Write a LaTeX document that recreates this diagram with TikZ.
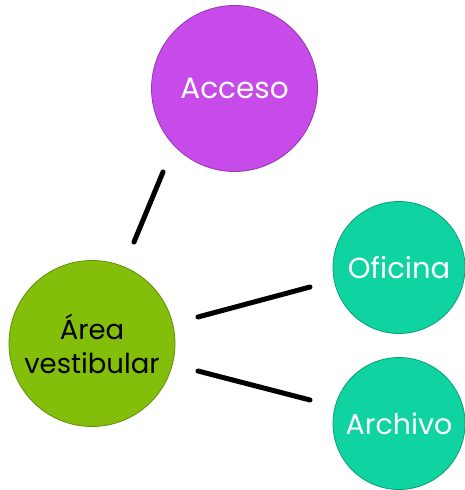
\documentclass[tikz,border=0pt]{standalone}
\usepackage{fontspec}
\setmainfont{Poppins}
\definecolor{cpurple}{HTML}{C64BE8}
\definecolor{cgreen}{HTML}{82BE0A}
\definecolor{cteal}{HTML}{10D3A2}
\begin{document}
\begin{tikzpicture}[x=1pt,y=-1pt,
  bubble/.style={circle,inner sep=0pt,line width=0.8pt,align=center},
  link/.style={line width=5pt,line cap=round,black}]
\useasboundingbox (0,0) rectangle (465,490);
\node[bubble,fill=cpurple,draw=cpurple!75!black,minimum size=166pt,text=white,font=\fontsize{29.5}{33}\selectfont] (acc) at (234.5,88.5) {Acceso};
\node[bubble,fill=cgreen,draw=cgreen!75!black,minimum size=166pt,text=black,font=\fontsize{27.5}{34}\selectfont] (area) at (92,343.5) {Área\\vestibular};
\node[bubble,fill=cteal,draw=cteal!75!black,minimum size=132pt,text=white,font=\fontsize{29}{32}\selectfont] (ofi) at (399,267.5) {Oficina};
\node[bubble,fill=cteal,draw=cteal!75!black,minimum size=132pt,text=white,font=\fontsize{28.5}{32}\selectfont,yshift=-3pt] (arc) at (399,420.5) {Archivo};
\coordinate (l1a) at (163,172); \coordinate (l1b) at (134,242);
\coordinate (l2a) at (198,317); \coordinate (l2b) at (310,287);
\coordinate (l3a) at (198,371); \coordinate (l3b) at (310,400);
\draw[link] (l1a) -- (l1b);
\draw[link] (l2a) -- (l2b);
\draw[link] (l3a) -- (l3b);
\end{tikzpicture}
\end{document}
